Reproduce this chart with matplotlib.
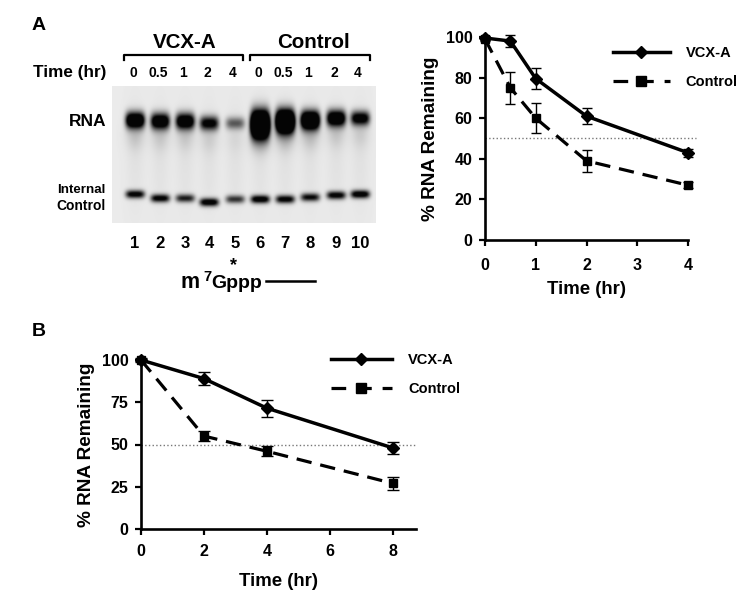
import numpy as np
import matplotlib
matplotlib.use("Agg")
import matplotlib.pyplot as plt

plt.rcParams['font.family'] = ['Liberation Sans', 'DejaVu Sans']
plt.rcParams['font.weight'] = 'bold'

# panel A curve
time_a = [0, 0.5, 1, 2, 4]
vcx_a = [99.5, 98, 79.5, 61, 43]
vcx_a_err = [1, 3, 5, 4, 2]
ctrl_a = [99, 75, 60, 39, 27]
ctrl_a_err = [1, 8, 7.5, 5.5, 1.5]

# panel B curve
time_b = [0, 2, 4, 8]
vcx_b = [100, 89, 71.5, 48]
vcx_b_err = [0.5, 4, 5, 3.5]
ctrl_b = [100, 55, 46, 27]
ctrl_b_err = [1, 3, 3, 4]

# gel
gel_times = ['0', '0.5', '1', '2', '4', '0', '0.5', '1', '2', '4']
lane_names = ['1', '2', '3', '4', '5', '6', '7', '8', '9', '10']
lane_x = [135, 160, 185, 209, 235, 260, 285, 310, 336, 360]
rna_y = [120, 121, 121, 123, 123, 124, 121, 120, 118, 118]
rna_amount = [1.6, 1.4, 1.4, 1.1, 0.6, 2.8, 2.6, 2.0, 1.5, 1.2]
rna_height = [8, 8, 8, 7, 6, 13, 11, 9, 8, 7]
ctrl_y = [194, 198, 198, 202, 199, 199, 199, 197, 195, 194]
ctrl_amount = [1.1, 1.1, 0.9, 1.2, 0.8, 1.2, 1.1, 1.0, 1.1, 1.2]


def axes_px(fig, left, top, right, bottom):
    return fig.add_axes([left / 750, 1 - bottom / 611, (right - left) / 750, (bottom - top) / 611])


def draw_curve(ax, t, vcx, vcx_err, ctrl, ctrl_err, cap, xpad, xlabelpad):
    ax.errorbar(t, vcx, yerr=vcx_err, fmt='none', ecolor='k', capsize=cap, elinewidth=1, capthick=1,
                clip_on=False, zorder=3)
    ax.errorbar(t, ctrl, yerr=ctrl_err, fmt='none', ecolor='k', capsize=cap, elinewidth=1, capthick=1,
                clip_on=False, zorder=3)
    ax.plot(t, vcx, color='k', lw=2.5, marker='D', ms=6.2, clip_on=False, zorder=4)
    ax.plot(t, ctrl, color='k', lw=2.3, ls=(0, (4.8, 2.8)), marker='s', ms=6.4, clip_on=False, zorder=4)
    ax.spines[['top', 'right']].set_visible(False)
    ax.spines[['left', 'bottom']].set_linewidth(1.9)
    ax.tick_params(width=1.6, length=4, labelsize=11.5, pad=5)
    ax.tick_params(axis='x', pad=xpad)
    ax.set_ylabel('% RNA Remaining', fontsize=13.7, fontweight='bold', labelpad=5)
    ax.set_xlabel('Time (hr)', fontsize=13.4, fontweight='bold', labelpad=xlabelpad)
    ax.patch.set_alpha(0)


def draw_legend(ax, anchor, hlen):
    h1 = plt.Line2D([], [], color='k', lw=2.5, marker='D', ms=6.2)
    h2 = plt.Line2D([], [], color='k', lw=2.3, ls=(0, (4.6, 3.4)), marker='s', ms=7.5)
    ax.legend([h1, h2], ['VCX-A', 'Control'], loc='upper left', bbox_to_anchor=anchor, frameon=False,
              fontsize=10.5, handlelength=hlen, labelspacing=1.0, handletextpad=1.1,
              borderaxespad=0, borderpad=0)


fig = plt.figure(figsize=(7.5, 6.11), dpi=100)

# gel image, dark bands on pale grey
yy, xx = np.mgrid[86:223:0.5, 112:376:0.5]
gel = np.zeros_like(xx)
for i in range(len(lane_x)):
    gx = np.exp(-((xx - lane_x[i]) / 9.5) ** 4)
    gel += rna_amount[i] * gx * np.exp(-((yy - rna_y[i]) / rna_height[i]) ** 2)
    gel += 0.09 * rna_amount[i] * np.exp(-((xx - lane_x[i]) / 9) ** 2) * np.exp(-((yy - rna_y[i] - 15) / 14) ** 2)
    gel += 0.04 * np.exp(-((xx - lane_x[i]) / 9) ** 2) * np.exp(-((yy - 155) / 60) ** 2)
    gel += ctrl_amount[i] * gx * np.exp(-((yy - ctrl_y[i]) / 4) ** 2)
gel = 0.92 - 0.9 * np.clip(gel, 0, 1)
ax_gel = axes_px(fig, 112, 86, 376, 223)
ax_gel.imshow(gel, cmap='gray', vmin=0, vmax=1, extent=(112, 376, 223, 86), aspect='auto', interpolation='bilinear')
ax_gel.axis('off')

# labels and brackets around the gel, in pixel coordinates
ax_top = axes_px(fig, 0, 0, 750, 611)
ax_top.set_xlim(0, 750)
ax_top.set_ylim(611, 0)
ax_top.axis('off')
ax_top.text(32, 25, 'A', fontsize=14, ha='left', va='center')
ax_top.text(32, 332, 'B', fontsize=14, ha='left', va='center')
ax_top.text(185, 42, 'VCX-A', fontsize=14.8, ha='center', va='center')
ax_top.text(313, 42, 'Control', fontsize=14.8, ha='center', va='center')
ax_top.plot([124, 124, 243, 243], [60, 55, 55, 60], color='k', lw=1.6)
ax_top.plot([250, 250, 370, 370], [60, 55, 55, 60], color='k', lw=1.6)
ax_top.text(106, 72, 'Time (hr)', fontsize=12.3, ha='right', va='center')
for i in range(len(lane_x)):
    ax_top.text(lane_x[i] - 2, 73, gel_times[i], fontsize=10, ha='center', va='center')
    ax_top.text(lane_x[i], 243, lane_names[i], fontsize=12, ha='center', va='center')
ax_top.text(106, 122, 'RNA', fontsize=12.5, ha='right', va='center')
ax_top.text(106, 190, 'Internal', fontsize=9.6, ha='right', va='center')
ax_top.text(106, 206, 'Control', fontsize=10, ha='right', va='center')
# m7Gppp in three pieces so the star can sit close above it
ax_top.text(181, 288, 'm', fontsize=15.5, ha='left', va='baseline')
ax_top.text(203, 281, '7', fontsize=10.5, ha='left', va='baseline')
ax_top.text(211, 288, 'Gppp', fontsize=14, ha='left', va='baseline')
ax_top.text(233, 266, '*', fontsize=13, ha='center', va='center')
ax_top.plot([266, 315], [281, 281], color='k', lw=1.8)

# panel A chart
ax_a = axes_px(fig, 485, 37, 688, 240)
ax_a.axhline(50, xmin=0, xmax=1.04, color='#777777', lw=1, ls=':', clip_on=False)
draw_curve(ax_a, time_a, vcx_a, vcx_a_err, ctrl_a, ctrl_a_err, 3.6, 9, 6)
ax_a.set_xlim(0, 4)
ax_a.set_ylim(0, 100)
ax_a.set_xticks([0, 1, 2, 3, 4])
ax_a.set_yticks([0, 20, 40, 60, 80, 100])
draw_legend(ax_a, (0.63, 0.955), 3.9)

# panel B chart
ax_b = axes_px(fig, 141, 360, 416, 529)
ax_b.axhline(50, color='#777777', lw=1, ls=':')
draw_curve(ax_b, time_b, vcx_b, vcx_b_err, ctrl_b, ctrl_b_err, 4.3, 7, 10)
ax_b.set_xlim(0, 8.74)
ax_b.set_ylim(0, 100)
ax_b.set_xticks([0, 2, 4, 6, 8])
ax_b.set_yticks([0, 25, 50, 75, 100])
draw_legend(ax_b, (0.69, 1.04), 4.2)

fig.savefig('out.png', dpi=100)
